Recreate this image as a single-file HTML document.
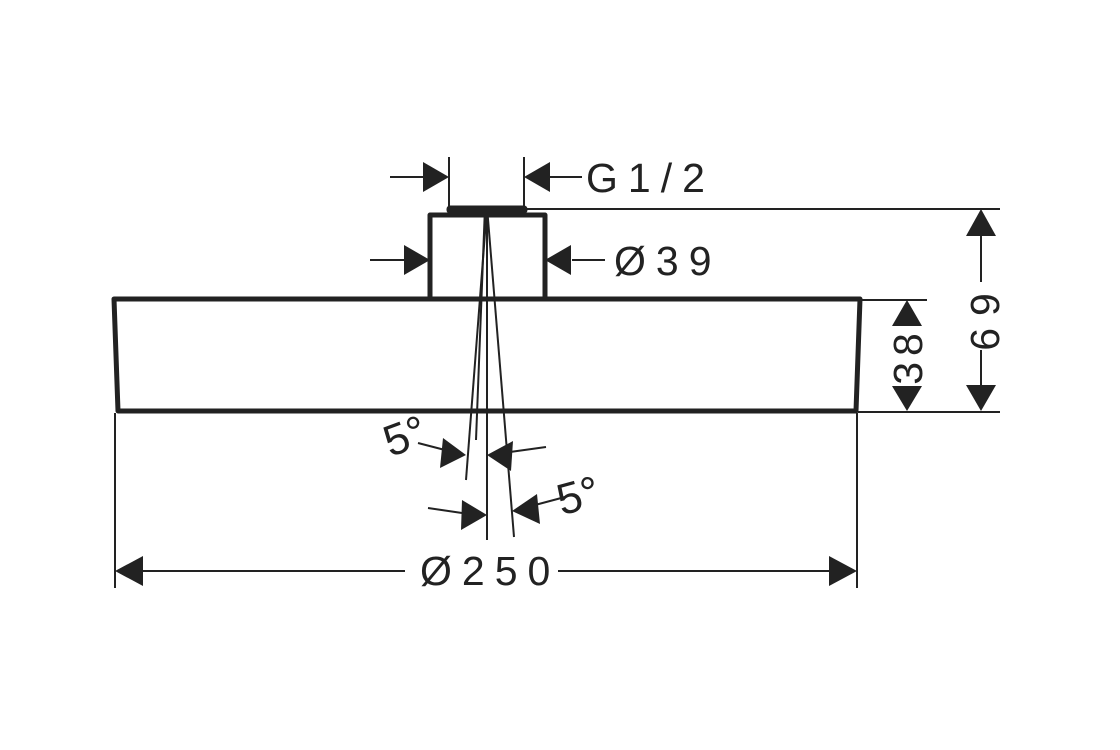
<!DOCTYPE html>
<html><head><style>html,body{margin:0;padding:0;background:#fff}svg{display:block}</style></head>
<body>
<svg width="1120" height="750" viewBox="0 0 1120 750" xmlns="http://www.w3.org/2000/svg">
<g stroke="#222" fill="none" stroke-linecap="butt">
<polygon points="114,299 860,299 856,411 118,411" stroke-width="5" stroke-linejoin="round"/>
<path d="M430,299 V215 H545 V299" stroke-width="5" stroke-linejoin="round"/>
<rect x="448" y="207" width="78" height="5" rx="2" stroke-width="3" fill="#222"/>
<g stroke-width="2">
<line x1="527" y1="209" x2="1000" y2="209"/>
<line x1="862" y1="300" x2="927" y2="300"/>
<line x1="858" y1="412" x2="1000" y2="412"/>
<line x1="449" y1="157" x2="449" y2="207"/>
<line x1="524" y1="157" x2="524" y2="207"/>
<line x1="115" y1="413" x2="115" y2="588"/>
<line x1="857" y1="413" x2="857" y2="588"/>
<line x1="390" y1="177" x2="425" y2="177"/>
<line x1="550" y1="177" x2="582" y2="177"/>
<line x1="370" y1="260" x2="405" y2="260"/>
<line x1="572" y1="260" x2="605" y2="260"/>
<line x1="140" y1="571" x2="405" y2="571"/>
<line x1="558" y1="571" x2="830" y2="571"/>
<line x1="981" y1="236" x2="981" y2="282"/>
<line x1="981" y1="350" x2="981" y2="385"/>
<line x1="487" y1="207" x2="487" y2="540"/>
<line x1="487" y1="207" x2="466" y2="480"/>
<line x1="487" y1="207" x2="514" y2="537"/>
<line x1="485" y1="207" x2="476" y2="440"/>
<line x1="418" y1="443" x2="445" y2="450"/>
<line x1="510" y1="452" x2="546" y2="447"/>
<line x1="428" y1="508" x2="462" y2="513"/>
<line x1="535" y1="505" x2="565" y2="497"/>
</g>
</g>
<g fill="#222">
<polygon points="449,177 423,162 423,192"/>
<polygon points="524,177 550,162 550,192"/>
<polygon points="430,260 404,245 404,275"/>
<polygon points="545,260 571,245 571,275"/>
<polygon points="115,571 143,556 143,586"/>
<polygon points="857,571 829,556 829,586"/>
<polygon points="981,209 966,236 996,236"/>
<polygon points="981,411 966,385 996,385"/>
<polygon points="907,300 892,326 922,326"/>
<polygon points="907,411 892,386 922,386"/>
<polygon points="466,455 443,438 440,468"/>
<polygon points="487,455 513,441 511,471"/>
<polygon points="487,515 462,500 461,530"/>
<polygon points="512,511 537,494 540,524"/>
</g>
<g font-family="Liberation Sans, sans-serif" fill="#222" font-size="41" letter-spacing="10">
<text x="586" y="192">G1/2</text>
<text x="614" y="275">Ø39</text>
<text x="420" y="585">Ø250</text>
<text transform="translate(999,316) rotate(-90)" text-anchor="middle" letter-spacing="12">69</text>
<text transform="translate(922,356) rotate(-90)" text-anchor="middle" letter-spacing="6">38</text>
<text transform="translate(410,450) rotate(-20)" text-anchor="middle" letter-spacing="0" font-size="44">5°</text>
<text transform="translate(582,510) rotate(-15)" text-anchor="middle" letter-spacing="0" font-size="44">5°</text>
</g>
</svg>
</body></html>
